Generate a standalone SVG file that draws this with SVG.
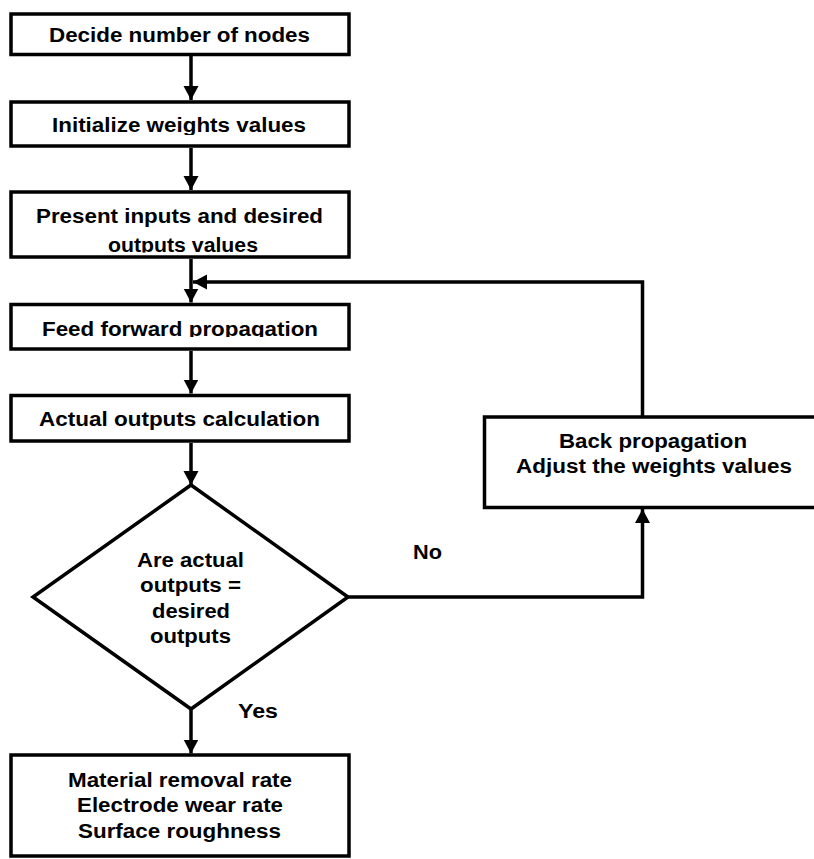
<svg xmlns="http://www.w3.org/2000/svg" width="814" height="859" viewBox="0 0 814 859">
<style>
.box{fill:#fff;stroke:#000;stroke-width:3.5}
.ln{fill:none;stroke:#000;stroke-width:3.5}
text{font-family:"Liberation Sans",Arial,sans-serif;font-weight:bold;font-size:19.5px;fill:#000;text-anchor:middle}
</style>
<defs>
<marker id="ah" markerUnits="userSpaceOnUse" markerWidth="15" markerHeight="16" refX="14" refY="7.5" orient="auto" viewBox="0 0 15 15">
<path d="M0,0 L14,7.5 L0,15 z" fill="#000"/>
</marker>
<clipPath id="c2"><rect x="0" y="0" width="814" height="135"/></clipPath>
<clipPath id="c3"><rect x="0" y="0" width="814" height="252.5"/></clipPath>
<clipPath id="c4"><rect x="0" y="0" width="814" height="337"/></clipPath>
</defs>
<rect width="814" height="859" fill="#fff"/>
<g id="connectors">
<line class="ln" x1="191" y1="56" x2="191" y2="100" marker-end="url(#ah)"/>
<line class="ln" x1="191" y1="148" x2="191" y2="190" marker-end="url(#ah)"/>
<line class="ln" x1="191" y1="259" x2="191" y2="302.5" marker-end="url(#ah)"/>
<line class="ln" x1="191" y1="351" x2="191" y2="393.5" marker-end="url(#ah)"/>
<line class="ln" x1="191" y1="443" x2="191" y2="485" marker-end="url(#ah)"/>
<line class="ln" x1="191" y1="709" x2="191" y2="753.5" marker-end="url(#ah)"/>
<polyline class="ln" points="642.5,417 642.5,282 193,282" marker-end="url(#ah)"/>
<polyline class="ln" points="348,597 642.5,597 642.5,509" marker-end="url(#ah)"/>
</g>
<g id="n1">
<rect class="box" x="11" y="14" width="338" height="40.5"/>
<text x="179.5" y="42" textLength="261" lengthAdjust="spacingAndGlyphs">Decide number of nodes</text>
</g>
<g id="n2">
<rect class="box" x="11" y="102" width="338" height="44"/>
<text x="179" y="132" textLength="254" lengthAdjust="spacingAndGlyphs" clip-path="url(#c2)">Initialize weights values</text>
</g>
<g id="n3">
<rect class="box" x="11" y="192" width="338" height="65"/>
<text x="179.5" y="223" textLength="287" lengthAdjust="spacingAndGlyphs">Present inputs and desired</text>
<text x="183" y="252" textLength="150" lengthAdjust="spacingAndGlyphs" clip-path="url(#c3)">outputs values</text>
</g>
<g id="n4">
<rect class="box" x="11" y="304.5" width="338" height="44.5"/>
<text x="180" y="336" textLength="276" lengthAdjust="spacingAndGlyphs" clip-path="url(#c4)">Feed forward propagation</text>
</g>
<g id="n5">
<rect class="box" x="11" y="395.5" width="338" height="45.5"/>
<text x="179.5" y="426" textLength="281" lengthAdjust="spacingAndGlyphs">Actual outputs calculation</text>
</g>
<g id="n6">
<polygon class="box" points="191,485 348,597 191,709 33,597"/>
<text x="190.5" y="567" textLength="107" lengthAdjust="spacingAndGlyphs">Are actual</text>
<text x="190.5" y="592" textLength="101" lengthAdjust="spacingAndGlyphs">outputs =</text>
<text x="191" y="618" textLength="78" lengthAdjust="spacingAndGlyphs">desired</text>
<text x="190.5" y="643" textLength="81" lengthAdjust="spacingAndGlyphs">outputs</text>
</g>
<g id="n7">
<rect class="box" x="11" y="755" width="338" height="101"/>
<text x="180" y="787" textLength="224" lengthAdjust="spacingAndGlyphs">Material removal rate</text>
<text x="180" y="812" textLength="206" lengthAdjust="spacingAndGlyphs">Electrode wear rate</text>
<text x="179.5" y="838" textLength="203" lengthAdjust="spacingAndGlyphs">Surface roughness</text>
</g>
<g id="n8">
<rect class="box" x="484.5" y="417" width="340" height="90.5"/>
<text x="653" y="448" textLength="188" lengthAdjust="spacingAndGlyphs">Back propagation</text>
<text x="654" y="473" textLength="276" lengthAdjust="spacingAndGlyphs">Adjust the weights values</text>
</g>
<g id="labels">
<text x="258" y="718" textLength="40" lengthAdjust="spacingAndGlyphs">Yes</text>
<text x="427.5" y="559" textLength="29" lengthAdjust="spacingAndGlyphs">No</text>
</g>
</svg>
